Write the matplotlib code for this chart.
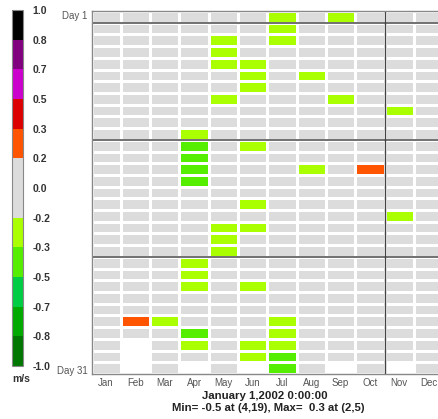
import matplotlib
matplotlib.use('Agg')
import matplotlib.pyplot as plt
import numpy as np
from matplotlib.colors import ListedColormap, BoundaryNorm

plt.rcParams['font.family'] = ['Liberation Sans', 'DejaVu Sans']

months = ['Jan', 'Feb', 'Mar', 'Apr', 'May', 'Jun', 'Jul', 'Aug', 'Sep', 'Oct', 'Nov', 'Dec']
days_in_month = [31, 28, 31, 30, 31, 30, 31, 31, 30, 31, 30, 31]

# (month, day, value in m/s) for the non-zero cells
month_idx = [2, 3, 4, 4, 4, 4, 4, 4, 4, 4, 4, 4,
             5, 5, 5, 5, 5, 5, 5,
             6, 6, 6, 6, 6, 6, 6, 6, 6,
             7, 7, 7, 7, 7, 7, 7, 7,
             8, 8, 9, 9, 10, 11, 11]
day_idx = [27, 27, 11, 12, 13, 14, 15, 22, 23, 24, 28, 29,
           3, 4, 5, 8, 19, 20, 21,
           5, 6, 7, 12, 17, 19, 24, 29, 30,
           1, 2, 3, 27, 28, 29, 30, 31,
           6, 14, 1, 8, 14, 9, 18]
speed = [0.29, -0.25, -0.25, -0.45, -0.45, -0.45, -0.45, -0.25, -0.25, -0.25, -0.4, -0.25,
         -0.25, -0.25, -0.25, -0.25, -0.25, -0.25, -0.25,
         -0.25, -0.25, -0.25, -0.25, -0.25, -0.25, -0.25, -0.25, -0.25,
         -0.25, -0.25, -0.25, -0.25, -0.25, -0.25, -0.4, -0.4,
         -0.25, -0.25, -0.25, -0.25, 0.25, -0.25, -0.25]

levels = [-1.0, -0.8, -0.7, -0.5, -0.3, -0.2, 0.0, 0.2, 0.3, 0.5, 0.7, 0.8, 1.0]
colors = ['#007700', '#00aa00', '#00cc44', '#55ee00', '#aaff00', '#dcdcdc',
          '#dcdcdc', '#ff5500', '#dd0000', '#cc00cc', '#800080', '#000000']

grid = np.zeros((31, 12))
for m in range(12):
    grid[days_in_month[m]:, m] = np.nan
for m, d, v in zip(month_idx, day_idx, speed):
    grid[d - 1, m - 1] = v

cmap = ListedColormap(colors)
cmap.set_bad('white')
norm = BoundaryNorm(levels, cmap.N)

fig = plt.figure(figsize=(4.39, 4.19), dpi=100)

ax = fig.add_axes([91.5 / 439, 45 / 419, 351.6 / 439, 363 / 419])
ax.pcolormesh(np.arange(13), np.arange(32), np.ma.masked_invalid(grid), cmap=cmap, norm=norm,
              edgecolors='white', linewidth=0.75)
ax.set_xlim(0, 12)
ax.set_ylim(31, 0)
for y in [1, 11, 21]:
    ax.axhline(y, color='#666666', lw=1.3)
ax.axvline(10, color='#444444', lw=1.0)
ax.set_xticks(np.arange(12) + 0.5)
ax.set_xticklabels(months, fontsize=7, color='#555555')
ax.set_yticks([0.3, 30.7])
ax.set_yticklabels(['Day 1', 'Day 31'], fontsize=7, color='#555555')
ax.tick_params(length=0, pad=3)
for s in ax.spines.values():
    s.set_color('#888888')
    s.set_linewidth(1.0)

cax = fig.add_axes([12.5 / 439, 53 / 419, 10 / 439, 356 / 419])
cb = fig.colorbar(plt.cm.ScalarMappable(norm=norm, cmap=cmap), cax=cax,
                  boundaries=levels, ticks=levels, spacing='uniform')
cb.outline.set_edgecolor('#888888')
cax.tick_params(length=0, pad=7)
cax.set_yticklabels(['%.1f' % v for v in levels], fontsize=7.5, fontweight='bold', color='#333333')
fig.text(21 / 439, 1 - 379 / 419, 'm/s', fontsize=7.5, fontweight='bold', color='#333333',
         ha='center', va='center')

fig.text(265 / 439, 1 - 396 / 419, 'January 1,2002 0:00:00', fontsize=8.2, fontweight='bold',
         ha='center', va='center', color='#222222')
fig.text(268 / 439, 1 - 408 / 419, 'Min= -0.5 at (4,19), Max=  0.3 at (2,5)', fontsize=8.2,
         fontweight='bold', ha='center', va='center', color='#222222')

fig.savefig('out.png', dpi=100)
